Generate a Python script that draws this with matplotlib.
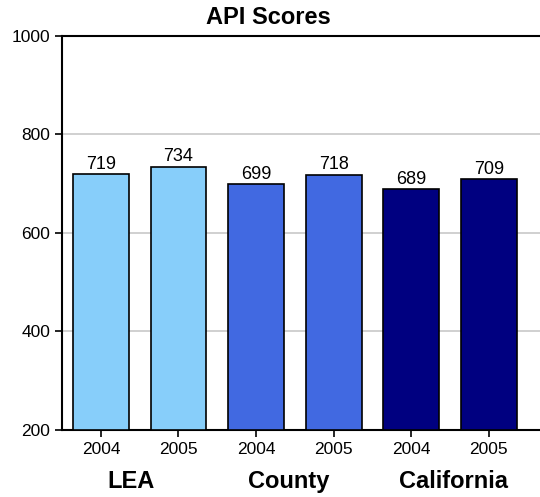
import matplotlib
matplotlib.use("Agg")
import matplotlib.pyplot as plt

plt.rcParams['font.family'] = ['Liberation Sans', 'DejaVu Sans']

groups = ["LEA", "County", "California"]
years = ["2004", "2005", "2004", "2005", "2004", "2005"]
values = [719, 734, 699, 718, 689, 709]
colors = ["#87CEFA", "#87CEFA", "#4169E1", "#4169E1", "#000080", "#000080"]
group_pos = [0.39, 2.42, 4.54]

fig = plt.figure(figsize=(5.4, 4.97), dpi=100)
ax = fig.add_axes([0.115, 0.135, 0.885, 0.7926])

x = list(range(len(values)))
ax.bar(x, [v - 200 for v in values], bottom=200, width=0.72, color=colors,
       edgecolor="black", linewidth=1.2, zorder=3)
for xi, v in zip(x, values):
    ax.text(xi, v + 3, str(v), ha="center", va="bottom", fontsize=13, zorder=4)

ax.set_ylim(200, 1000)
ax.set_xlim(-0.5, 5.66)
ax.set_yticks([200, 400, 600, 800, 1000])
ax.set_xticks(x)
ax.set_xticklabels(years)
ax.tick_params(axis="both", labelsize=12.5, length=5, width=1.2, direction="out")
ax.tick_params(axis="x", pad=4)
ax.yaxis.grid(True, color="#c8c8c8", linewidth=1.2, zorder=0)
ax.set_axisbelow(True)
for s in ["left", "bottom", "top"]:
    ax.spines[s].set_linewidth(1.5)
ax.spines["right"].set_visible(False)

for g, gp in zip(groups, group_pos):
    ax.text(gp, -0.13, g, transform=ax.get_xaxis_transform(),
            ha="center", va="center", fontsize=17, fontweight="bold")

fig.text(0.497, 1 - 17 / 497, "API Scores", ha="center", va="center",
         fontsize=17, fontweight="bold")

fig.savefig("out.png", dpi=100)
